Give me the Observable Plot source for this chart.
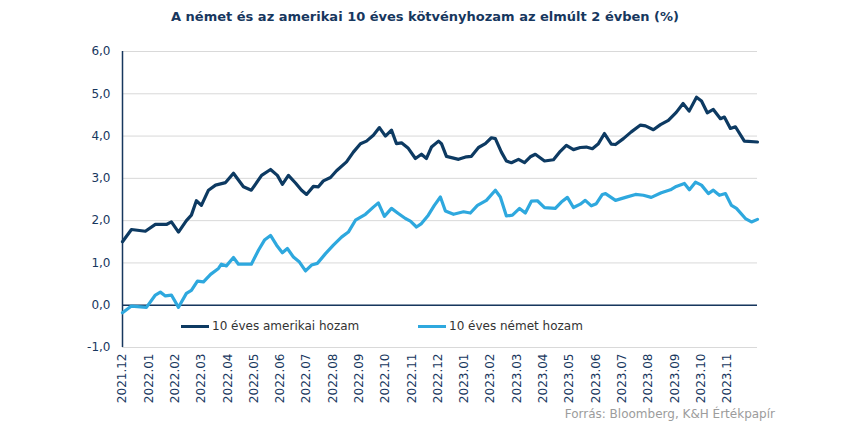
<!DOCTYPE html>
<html>
<head>
<meta charset="utf-8">
<script src="https://cdn.jsdelivr.net/npm/d3@7"></script>
<script src="https://cdn.jsdelivr.net/npm/@observablehq/plot@0.6"></script>
<style>
  body { margin: 0; background: #fff; }
  #wrap { position: relative; width: 850px; height: 430px; font-family: "DejaVu Sans", sans-serif; }
  #title { position: absolute; top: 9px; left: 0; width: 850px; text-align: center; font-weight: bold; font-size: 13px; color: #17375e; }
  .leg { position: absolute; top: 319px; display: flex; align-items: center; font-size: 12px; color: #333; }
  .leg span.sw { display: inline-block; width: 28px; height: 3px; margin-right: 3px; }
  #source { position: absolute; top: 407px; right: 75px; font-size: 12px; color: #9c9c9c; }
</style>
</head>
<body>
<div id="wrap">
  <div id="chart"></div>
  <div id="title"></div>
  <div class="leg" id="leg0" style="left:181px"></div>
  <div class="leg" id="leg1" style="left:418px"></div>
  <div id="source"></div>
</div>
<script>
const titleText = "A német és az amerikai 10 éves kötvényhozam az elmúlt 2 évben (%)";
const sourceText = "Forrás: Bloomberg, K&H Értékpapír";
const seriesNames = ["10 éves amerikai hozam", "10 éves német hozam"];
const seriesColors = ["#0d3a62", "#2ea8de"];
const monthLabels = ["2021.12","2022.01","2022.02","2022.03","2022.04","2022.05","2022.06","2022.07","2022.08","2022.09","2022.10","2022.11","2022.12","2023.01","2023.02","2023.03","2023.04","2023.05","2023.06","2023.07","2023.08","2023.09","2023.10","2023.11"];
const yTicks = [-1, 0, 1, 2, 3, 4, 5, 6];

// time position in months since end of 2021.12
const usT = [0,0.34,0.87,1.25,1.67,1.86,2.13,2.43,2.62,2.81,3.00,3.27,3.54,3.92,4.22,4.60,4.90,5.29,5.63,5.89,6.08,6.31,6.58,6.81,7.00,7.26,7.45,7.64,7.91,8.14,8.52,8.78,9.05,9.28,9.54,9.77,10.00,10.23,10.42,10.61,10.87,11.14,11.37,11.56,11.75,12.02,12.13,12.32,12.78,13.08,13.27,13.54,13.80,14.03,14.18,14.41,14.60,14.79,15.06,15.29,15.51,15.70,16.05,16.39,16.65,16.88,17.15,17.41,17.64,17.87,18.10,18.33,18.59,18.75,19.05,19.35,19.70,19.89,20.19,20.46,20.76,21.06,21.32,21.55,21.83,22.02,22.24,22.47,22.74,22.89,23.12,23.31,23.65,24.15];
const usV = [1.50,1.79,1.75,1.91,1.91,1.97,1.73,2.00,2.13,2.47,2.36,2.72,2.84,2.90,3.12,2.80,2.72,3.07,3.21,3.07,2.86,3.07,2.89,2.72,2.62,2.81,2.80,2.94,3.02,3.18,3.39,3.62,3.82,3.88,4.02,4.20,4.00,4.14,3.82,3.84,3.71,3.47,3.57,3.47,3.74,3.88,3.82,3.52,3.45,3.51,3.52,3.73,3.82,3.96,3.94,3.62,3.41,3.37,3.45,3.37,3.51,3.57,3.41,3.44,3.64,3.78,3.68,3.73,3.74,3.70,3.82,4.06,3.81,3.80,3.94,4.10,4.26,4.24,4.15,4.27,4.37,4.56,4.77,4.59,4.92,4.83,4.55,4.63,4.41,4.45,4.18,4.22,3.88,3.86];
const deT = [0,0.34,0.91,1.25,1.44,1.63,1.86,2.13,2.43,2.62,2.85,3.08,3.35,3.65,3.76,3.95,4.22,4.41,4.90,5.17,5.40,5.63,5.86,6.08,6.27,6.50,6.73,6.96,7.19,7.41,7.72,8.02,8.33,8.59,8.86,9.24,9.54,9.73,9.96,10.23,10.49,10.76,10.95,11.18,11.37,11.63,11.86,12.09,12.28,12.59,12.97,13.23,13.50,13.84,14.18,14.37,14.60,14.83,15.10,15.32,15.55,15.78,16.05,16.46,16.69,16.92,17.15,17.41,17.60,17.83,18.02,18.25,18.37,18.75,19.13,19.51,19.81,20.11,20.49,20.84,21.06,21.37,21.56,21.79,22.02,22.28,22.47,22.70,22.93,23.16,23.35,23.69,23.92,24.15];
const deV = [-0.18,-0.02,-0.05,0.24,0.31,0.22,0.24,-0.05,0.28,0.35,0.57,0.55,0.73,0.87,0.97,0.93,1.13,0.97,0.97,1.30,1.54,1.65,1.42,1.24,1.34,1.14,1.02,0.81,0.95,0.99,1.22,1.42,1.61,1.73,2.01,2.15,2.32,2.42,2.10,2.29,2.17,2.05,1.99,1.85,1.93,2.13,2.36,2.56,2.23,2.15,2.21,2.18,2.36,2.48,2.72,2.56,2.11,2.13,2.29,2.18,2.46,2.47,2.31,2.29,2.44,2.55,2.31,2.39,2.48,2.35,2.40,2.62,2.64,2.48,2.55,2.62,2.60,2.55,2.66,2.73,2.81,2.88,2.73,2.91,2.84,2.64,2.72,2.60,2.64,2.36,2.29,2.05,1.97,2.03];

const rows = [
  ...usT.map((t, i) => ({t, v: usV[i], s: seriesNames[0]})),
  ...deT.map((t, i) => ({t, v: deV[i], s: seriesNames[1]}))
];

const fmt = d => d3.format(".1f")(d).replace(".", ",").replace("−", "-");

const chart = Plot.plot({
  width: 850,
  height: 430,
  marginLeft: 122,
  marginRight: 93,
  marginTop: 51,
  marginBottom: 83,
  style: {fontFamily: "DejaVu Sans, sans-serif", fontSize: "12px", color: "#17375e", background: "transparent"},
  x: {domain: [0, 24.15], label: null},
  y: {domain: [-1, 6], label: null},
  color: {domain: seriesNames, range: seriesColors},
  marks: [
    Plot.gridY(yTicks, {stroke: "#d9d9d9", strokeOpacity: 1, strokeWidth: 1}),
    Plot.ruleY([0], {stroke: "#17375e", strokeWidth: 1.5}),
    Plot.ruleX([0], {stroke: "#17375e", strokeWidth: 1.5}),
    Plot.axisY(yTicks, {tickSize: 0, tickPadding: 12, tickFormat: fmt, fill: "#17375e", fontSize: 12, label: null}),
    Plot.axisX(d3.range(monthLabels.length), {tickSize: 0, tickPadding: 6, tickRotate: -90, tickFormat: i => monthLabels[i], fill: "#17375e", fontSize: 12, label: null}),
    Plot.line(rows, {x: "t", y: "v", z: "s", stroke: "s", strokeWidth: 3.2, strokeLinejoin: "round", strokeLinecap: "round"})
  ]
});
document.getElementById("chart").appendChild(chart);
document.getElementById("title").textContent = titleText;
document.getElementById("source").textContent = sourceText;
seriesNames.forEach((name, i) => {
  const el = document.getElementById("leg" + i);
  const sw = document.createElement("span");
  sw.className = "sw";
  sw.style.background = seriesColors[i];
  el.appendChild(sw);
  el.appendChild(document.createTextNode(name));
});
</script>
</body>
</html>
